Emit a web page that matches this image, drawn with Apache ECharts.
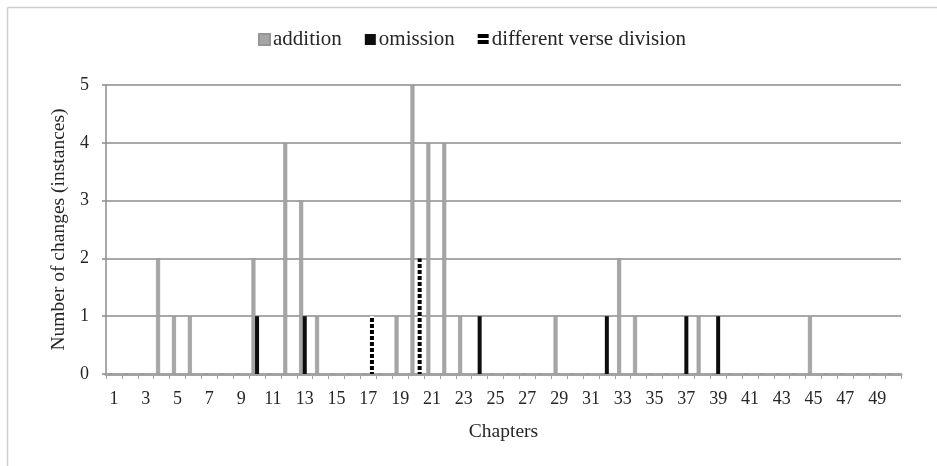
<!DOCTYPE html>
<html>
<head>
<meta charset="utf-8">
<script src="https://cdn.jsdelivr.net/npm/echarts@6/dist/echarts.min.js"></script>
<style>
html,body{margin:0;padding:0;background:#fff;}
#chart{width:937px;height:466px;}
</style>
</head>
<body>
<div id="chart"></div>
<script>
// Data
var chapters = [];
for (var c = 1; c <= 50; c++) chapters.push(String(c));
var seriesNames = ['addition', 'omission', 'different verse division'];
// values per chapter (1..50)
var additionValues = [0,0,0,2,1,1,0,0,0,2, 0,4,3,1,0,0,0,0,1,5, 4,4,1,0,0,0,0,0,1,0, 0,0,2,1,0,0,0,1,0,0, 0,0,0,0,1,0,0,0,0,0];
var omissionValues = [0,0,0,0,0,0,0,0,0,1, 0,0,1,0,0,0,0,0,0,0, 0,0,0,1,0,0,0,0,0,0, 0,1,0,0,0,0,1,0,1,0, 0,0,0,0,0,0,0,0,0,0];
var verseDivisionValues = [0,0,0,0,0,0,0,0,0,0, 0,0,0,0,0,0,1,0,0,2, 0,0,0,0,0,0,0,0,0,0, 0,0,0,0,0,0,0,0,0,0, 0,0,0,0,0,0,0,0,0,0];
var yTicks = [0,1,2,3,4,5];

var FONT = "'Liberation Serif', 'DejaVu Serif', serif";
var TXT = '#262626';

// stripe pattern for "different verse division"
var pc = document.createElement('canvas');
pc.width = 4; pc.height = 6;
var pctx = pc.getContext('2d');
pctx.fillStyle = '#ffffff'; pctx.fillRect(0,0,4,6);
pctx.fillStyle = '#000000'; pctx.fillRect(0,0,4,4);

var chart = echarts.init(document.getElementById('chart'), null, {renderer:'canvas'});
chart.setOption({
  animation: false,
  backgroundColor: '#ffffff',
  textStyle: {fontFamily: FONT, color: TXT},
  graphic: [
    {type:'line', shape:{x1:7.5,y1:7.5,x2:937,y2:7.5}, style:{stroke:'#cfcfcf', lineWidth:1.5}, silent:true},
    {type:'line', shape:{x1:7.5,y1:7.5,x2:7.5,y2:466}, style:{stroke:'#cfcfcf', lineWidth:1.5}, silent:true}
  ],
  legend: {
    left: 253, top: 24,
    itemWidth: 11, itemHeight: 11, itemGap: 23,
    icon: 'rect',
    textStyle: {fontFamily: FONT, fontSize: 21, color: TXT, padding:[0,0,0,-2]},
    data: seriesNames
  },
  grid: {left: 106, right: 36, top: 85, bottom: 92, containLabel: false},
  xAxis: {
    type: 'category',
    data: chapters,
    boundaryGap: true,
    name: 'Chapters',
    nameLocation: 'middle',
    nameGap: 48,
    nameTextStyle: {fontFamily: FONT, fontSize: 19.5, color: TXT},
    axisLine: {show:true, lineStyle:{color:'#a3a3a3', width:3}},
    axisTick: {show:true, interval:0, length:5, lineStyle:{color:'#a3a3a3', width:1}},
    axisLabel: {interval:1, margin:16, fontFamily: FONT, fontSize: 18, color: TXT}
  },
  yAxis: {
    type: 'value',
    min: 0, max: 5, interval: 1,
    name: 'Number of changes (instances)',
    nameLocation: 'middle',
    nameRotate: 90,
    nameGap: 36,
    nameTextStyle: {fontFamily: FONT, fontSize: 19.5, color: TXT},
    axisLine: {show:true, lineStyle:{color:'#8c8c8c', width:1.5}},
    axisTick: {show:true, length:4, lineStyle:{color:'#8c8c8c', width:1.5}},
    axisLabel: {margin:17, fontFamily: FONT, fontSize: 18, color: TXT,
      formatter: function(v){ return yTicks.indexOf(v) >= 0 ? String(v) : ''; }},
    splitLine: {show:true, lineStyle:{color:'#8c8c8c', width:1.5}}
  },
  series: [
    {name: seriesNames[0], type:'bar', data: additionValues, barWidth:4, barGap:'-10%',
     itemStyle:{color:'#a6a6a6', borderColor:'#969696', borderWidth:0.6}},
    {name: seriesNames[1], type:'bar', data: omissionValues, barWidth:4, barGap:'-10%',
     itemStyle:{color:'#0d0d0d'}},
    {name: seriesNames[2], type:'bar', data: verseDivisionValues, barWidth:4, barGap:'-10%',
     itemStyle:{color:{image: pc, repeat:'repeat'}}}
  ]
});
</script>
</body>
</html>
